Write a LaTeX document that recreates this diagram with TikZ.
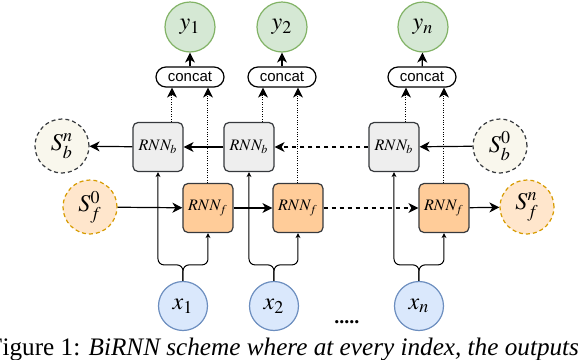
\documentclass[tikz,border=0pt]{standalone}
\usepackage{mathptmx}
\usepackage{fontspec}
\setmainfont{Liberation Serif}
\newfontfamily\concatfont{Liberation Sans}
\usetikzlibrary{arrows.meta}

\definecolor{yfill}{HTML}{D5E8D4}
\definecolor{ydraw}{HTML}{82B366}
\definecolor{xfill}{HTML}{DAE8FC}
\definecolor{xdraw}{HTML}{6C8EBF}
\definecolor{bfill}{HTML}{EEEEEE}
\definecolor{ffill}{HTML}{FFCC99}
\definecolor{celldraw}{HTML}{36393D}
\definecolor{sbfill}{HTML}{F9F7ED}
\definecolor{sffill}{HTML}{FFE6CC}
\definecolor{sfdraw}{HTML}{D79B00}

\begin{document}
\begin{tikzpicture}[x=0.5pt, y=-0.5pt, line width=0.6pt,
  >={Stealth[length=5pt,width=5pt,inset=1.5pt]},
  outnode/.style={circle, draw=ydraw, fill=yfill, minimum size=25pt, inner sep=0pt, font=\fontsize{12}{14}\selectfont},
  innode/.style={circle, draw=xdraw, fill=xfill, minimum size=24.5pt, inner sep=0pt, font=\fontsize{12}{14}\selectfont},
  bstate/.style={circle, draw=celldraw, fill=sbfill, dash pattern=on 2pt off 1.5pt, minimum size=27pt, inner sep=0pt, font=\fontsize{12}{14}\selectfont},
  fstate/.style={bstate, draw=sfdraw, fill=sffill},
  cellb/.style={draw=celldraw, fill=bfill, rounded corners=2.5pt, minimum width=25pt, minimum height=24.5pt, inner sep=0pt, font=\fontsize{8}{9}\selectfont},
  cellf/.style={cellb, fill=ffill},
  concatbox/.style={draw, rounded corners=5pt, minimum width=34pt, minimum height=10pt, inner sep=0pt, font=\concatfont\fontsize{7.5}{8}\selectfont},
  split/.style={-{Stealth[length=2.5pt,width=2.5pt]}, rounded corners=3pt, line width=0.5pt},
  skip/.style={->, dash pattern=on 2pt off 2pt},
  dots/.style={->, line width=0.5pt, dash pattern=on 0.5pt off 0.7pt}]
  \clip (0,0) rectangle (586,360);

  % outputs
  \node[outnode] (y1) at (190,27) {$y_1$};
  \node[outnode] (y2) at (282,27) {$y_2$};
  \node[outnode] (yn) at (423,27) {$y_n$};

  \node[concatbox] (c1) at (190,77) {concat};
  \node[concatbox] (c2) at (282,77) {concat};
  \node[concatbox] (cn) at (422,77) {concat};

  % backward cells
  \node[cellb] (rnnb1) at (158,147) {$RNN_b$};
  \node[cellb] (rnnb2) at (249,147) {$RNN_b$};
  \node[cellb] (rnnbn) at (394,147) {$RNN_b$};
  \node[bstate] (sbn) at (62,146) {$S_b^n$};
  \node[bstate] (sb0) at (500,146) {$S_b^0$};

  % forward cells
  \node[cellf] (rnnf1) at (208,208) {$RNN_f$};
  \node[cellf] (rnnf2) at (298,208) {$RNN_f$};
  \node[cellf] (rnnfn) at (444,208) {$RNN_f$};
  \node[fstate] (sf0) at (90,207) {$S_f^0$};
  \node[fstate] (sfn) at (527,207) {$S_f^n$};

  % inputs
  \node[innode] (x1) at (183,306) {$x_1$};
  \node[innode] (x2) at (274,306) {$x_2$};
  \node[innode] (xn) at (419,306) {$x_n$};
  \node[font=\fontsize{10}{12}\selectfont\bfseries] (gap) at (347,322) {.....};

  % inputs into both cells
  \draw[split] (x1.north) -- ++(0,-16) -| (rnnb1.south);
  \draw[split] (x1.north) -- ++(0,-16) -| (rnnf1.south);
  \draw[split] (x2.north) -- ++(0,-16) -| (rnnb2.south);
  \draw[split] (x2.north) -- ++(0,-16) -| (rnnf2.south);
  \draw[split] (xn.north) -- ++(0,-16) -| (rnnbn.south);
  \draw[split] (xn.north) -- ++(0,-16) -| (rnnfn.south);

  % forward chain
  \draw[->] (sf0) -- (rnnf1);
  \draw[->] (rnnf1) -- (rnnf2);
  \draw[skip] (rnnf2) -- (rnnfn);
  \draw[->] (rnnfn) -- (sfn);

  % backward chain
  \draw[->] (sb0) -- (rnnbn);
  \draw[skip] (rnnbn) -- (rnnb2);
  \draw[->] (rnnb2) -- (rnnb1);
  \draw[->] (rnnb1) -- (sbn);

  % states to concat
  \coordinate (b1) at ([xshift=7pt]rnnb1.north);
  \coordinate (b2) at ([xshift=7pt]rnnb2.north);
  \coordinate (bn) at ([xshift=6pt]rnnbn.north);
  \draw[dots] (b1) -- (b1 |- c1.south);
  \draw[dots] (b2) -- (b2 |- c2.south);
  \draw[dots] (bn) -- (bn |- cn.south);
  \draw[dots] (rnnf1.north) -- (rnnf1.north |- c1.south);
  \draw[dots] (rnnf2.north) -- (rnnf2.north |- c2.south);
  \draw[dots] (rnnfn.north) -- (rnnfn.north |- cn.south);

  \draw[->] (c1) -- (y1);
  \draw[->] (c2) -- (y2);
  \draw[->] (cn) -- (yn);

  \node[anchor=base west, inner sep=0pt, font=\fontsize{12.6}{14}\selectfont] (caption) at (-12,355)
    {Figure 1: \textit{BiRNN scheme where at every index, the outputs}};
\end{tikzpicture}
\end{document}
